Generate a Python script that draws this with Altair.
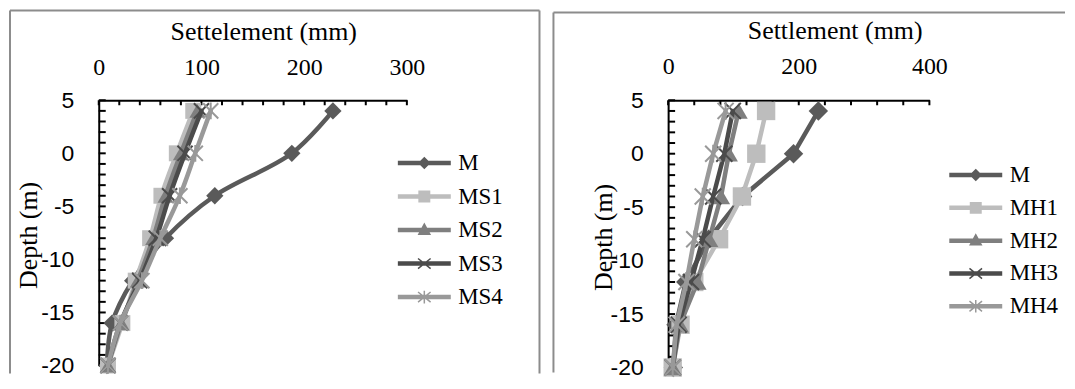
import math
import altair as alt
import pandas as pd

# ---------------- data ----------------
depth = [4, 0, -4, -8, -12, -16, -20]

left_names = ["M", "MS1", "MS2", "MS3", "MS4"]
left_M = [228, 188, 113, 65, 33, 13, 8]
left_MS1 = [92, 76, 61, 50, 36, 23, 9]
left_MS2 = [96, 80, 65, 53, 38, 22, 9]
left_MS3 = [100, 84, 69, 56, 40, 21, 9]
left_MS4 = [109, 94, 79, 60, 42, 21, 9]

right_names = ["M", "MH1", "MH2", "MH3", "MH4"]
right_M = [230, 192, 114, 62, 27, 12, 8]
right_MH1 = [150, 135, 113, 78, 40, 19, 7]
right_MH2 = [108, 93, 81, 63, 45, 18, 7]
right_MH3 = [99, 86, 69, 53, 35, 16, 7]
right_MH4 = [88, 69, 53, 40, 28, 13, 7]

colors = ["#5a5a5a", "#bdbdbd", "#7f7f7f", "#4b4b4b", "#999999"]

left_x_labels = [0, 100, 200, 300]
right_x_labels = [0, 200, 400]
y_labels = [5, 0, -5, -10, -15, -20]
left_x_minor = list(range(0, 301, 20))
right_x_minor = list(range(0, 401, 40))
y_minor = list(range(-20, 6))

SERIF = "'Liberation Serif', 'Times New Roman', 'DejaVu Serif', serif"
SANS = "'Liberation Sans', Arial, sans-serif"


def long_df(names, series):
    rows = []
    for name, vals in zip(names, series):
        for i, (d, v) in enumerate(zip(depth, vals)):
            rows.append({"series": name, "depth": d, "settle": v, "order": i})
    return pd.DataFrame(rows)


# ---------------- legend symbol paths (line + marker) ----------------
def poly(pts):
    a = sum(x0 * y1 - x1 * y0 for (x0, y0), (x1, y1) in zip(pts, pts[1:] + pts[:1]))
    if a < 0:
        pts = pts[::-1]
    return "M" + "L".join(f"{x:.3f},{y:.3f}" for x, y in pts) + "Z"


def seg(p, q, h):
    dx, dy = q[0] - p[0], q[1] - p[1]
    n = math.hypot(dx, dy)
    nx, ny = -dy / n * h, dx / n * h
    return poly([(p[0] + nx, p[1] + ny), (q[0] + nx, q[1] + ny),
                 (q[0] - nx, q[1] - ny), (p[0] - nx, p[1] - ny)])


LL = 1.77
line_path = seg((-LL, 0), (LL, 0), 0.15)
leg_diamond = poly([(-0.42, 0), (0, -0.42), (0.42, 0), (0, 0.42)])
leg_square = poly([(-0.4, -0.4), (0.4, -0.4), (0.4, 0.4), (-0.4, 0.4)])
leg_triangle = poly([(0, -0.5), (0.45, 0.32), (-0.45, 0.32)])
leg_x = seg((-0.42, -0.34), (0.42, 0.34), 0.05) + seg((-0.42, 0.34), (0.42, -0.34), 0.05)
leg_star = leg_x + seg((0, -0.42), (0, 0.42), 0.05)
legend_paths = [line_path + leg_diamond, line_path + leg_square, line_path + leg_triangle,
                line_path + leg_x, line_path + leg_star]

X_PATH = "M-1,-1L1,1M-1,1L1,-1"
STAR_PATH = "M-1,-1L1,1M-1,1L1,-1M0,-1.1L0,1.1"


def panel(names, series, xmax, width, height, xlabels, xminor, title, interp,
          msize, frame, right_edge, top_pad, legend_xy, row_pad, xaxis_cfg, yaxis_cfg):
    df = long_df(names, series)
    xs = alt.Scale(domain=[0, xmax], nice=False, zero=False)
    ys = alt.Scale(domain=[-20, 5], nice=False, zero=False)
    xaxis = alt.Axis(orient="top", values=xlabels, grid=False, ticks=False, tickSize=0,
                     domainColor="black", domainWidth=2, labelFont=SERIF, labelFontSize=24,
                     labelColor="black", labelBaseline="alphabetic", labelFlush=False,
                     labelOverlap=False, labelPadding=xaxis_cfg["pad"], title=title,
                     titleFont=SERIF, titleFontSize=26, titleFontWeight="normal",
                     titleColor="black", titleX=xaxis_cfg["tx"], titleY=xaxis_cfg["ty"],
                     titleAlign="center", titleBaseline="alphabetic")
    yaxis = alt.Axis(orient="left", values=y_labels, grid=False, ticks=False, tickSize=0,
                     domainColor="black", domainWidth=2, labelFont=SANS, labelFontSize=23,
                     labelColor="black", labelFlush=False, labelOverlap=False,
                     labelExpr="'' + datum.value",
                     labelPadding=yaxis_cfg["pad"], title="Depth (m)", titleFont=SERIF,
                     titleFontSize=26, titleFontWeight="normal", titleColor="black",
                     titleAngle=270, titleX=yaxis_cfg["tx"], titleY=yaxis_cfg["ty"],
                     titleAlign="center", titleBaseline="middle")
    X = alt.X("settle:Q", scale=xs, axis=xaxis)
    Y = alt.Y("depth:Q", scale=ys, axis=yaxis)

    one = alt.Data(values=[{"k": 0}])
    fx0, fx1, fy0, fy1 = frame
    fcol = "#8c8c8c"
    layers = [
        alt.Chart(one).mark_rule(color=fcol, strokeWidth=2).encode(
            x=alt.value(fx0), y=alt.value(fy0), y2=alt.value(fy1)),
        alt.Chart(one).mark_rule(color=fcol, strokeWidth=2).encode(
            x=alt.value(fx0), x2=alt.value(fx1), y=alt.value(fy0)),
    ]
    if right_edge:
        layers.append(alt.Chart(one).mark_rule(color=fcol, strokeWidth=2).encode(
            x=alt.value(fx1), y=alt.value(fy0), y2=alt.value(fy1)))
    if top_pad is not None:
        layers.append(alt.Chart(one).mark_rule(strokeOpacity=0, strokeWidth=2).encode(
            x=alt.value(0), x2=alt.value(10), y=alt.value(top_pad)))

    layers.append(alt.Chart(pd.DataFrame({"settle": xminor})).mark_rule(
        color="black", strokeWidth=2).encode(x=X, y=alt.value(0), y2=alt.value(5)))
    layers.append(alt.Chart(pd.DataFrame({"depth": y_minor})).mark_rule(
        color="black", strokeWidth=2).encode(y=Y, x=alt.value(0), x2=alt.value(7)))

    shapes = [("diamond", True), ("square", True), ("triangle-up", True),
              (X_PATH, False), (STAR_PATH, False)]
    for i, name in enumerate(names):
        sub = df[df["series"] == name]
        layers.append(alt.Chart(sub).mark_line(
            color=colors[i], strokeWidth=4.5, interpolate=interp, strokeCap="round",
            strokeJoin="round").encode(x=X, y=Y, order="order:Q"))
        shp, filled = shapes[i]
        sz = msize[i]
        if filled:
            mk = alt.Chart(sub).mark_point(shape=shp, size=sz, filled=True, color=colors[i],
                                           opacity=1, strokeWidth=0)
        else:
            mk = alt.Chart(sub).mark_point(shape=shp, size=sz, filled=False, color=colors[i],
                                           opacity=1, strokeWidth=2)
        layers.append(mk.encode(x=X, y=Y))

    leg = alt.Legend(orient="none", legendX=legend_xy[0], legendY=legend_xy[1], title=None,
                     labelFont=SERIF, labelFontSize=23, labelColor="black", symbolSize=900,
                     symbolStrokeWidth=0, labelOffset=19, rowPadding=row_pad, padding=0,
                     symbolOffset=0, labelLimit=0)
    layers.append(alt.Chart(df).transform_filter("false").mark_point(
        filled=True, opacity=1).encode(
        x=X, y=Y,
        color=alt.Color("series:N", scale=alt.Scale(domain=names, range=colors), legend=leg),
        shape=alt.Shape("series:N", scale=alt.Scale(domain=names, range=legend_paths),
                        legend=leg)))
    return alt.layer(*layers).properties(width=width, height=height)


left = panel(left_names, [left_M, left_MS1, left_MS2, left_MS3, left_MS4], 300, 309, 266,
             left_x_labels, left_x_minor, "Settelement (mm)", "catmull-rom",
             [300, 256, 256, 230, 230], (-89, 442, -90, 274), True, None, (311.5, 48), 6.6,
             {"pad": 26, "tx": 165, "ty": -61}, {"pad": 25, "tx": -70, "ty": 135})

right = panel(right_names, [right_M, right_MH1, right_MH2, right_MH3, right_MH4], 400, 262, 268,
              right_x_labels, right_x_minor, "Settlement (mm)", "linear",
              [380, 340, 330, 260, 260], (-115, 398, -88, 273), False, -91, (293.5, 60), 5.9,
              {"pad": 27, "tx": 167, "ty": -62}, {"pad": 25, "tx": -65, "ty": 137})

chart = alt.hconcat(left, right, spacing=10).resolve_scale(
    color="independent", shape="independent").properties(
    padding=0, background="white").configure_view(stroke="transparent")

chart.save("out.html", embed_options={"renderer": "svg", "actions": False})
